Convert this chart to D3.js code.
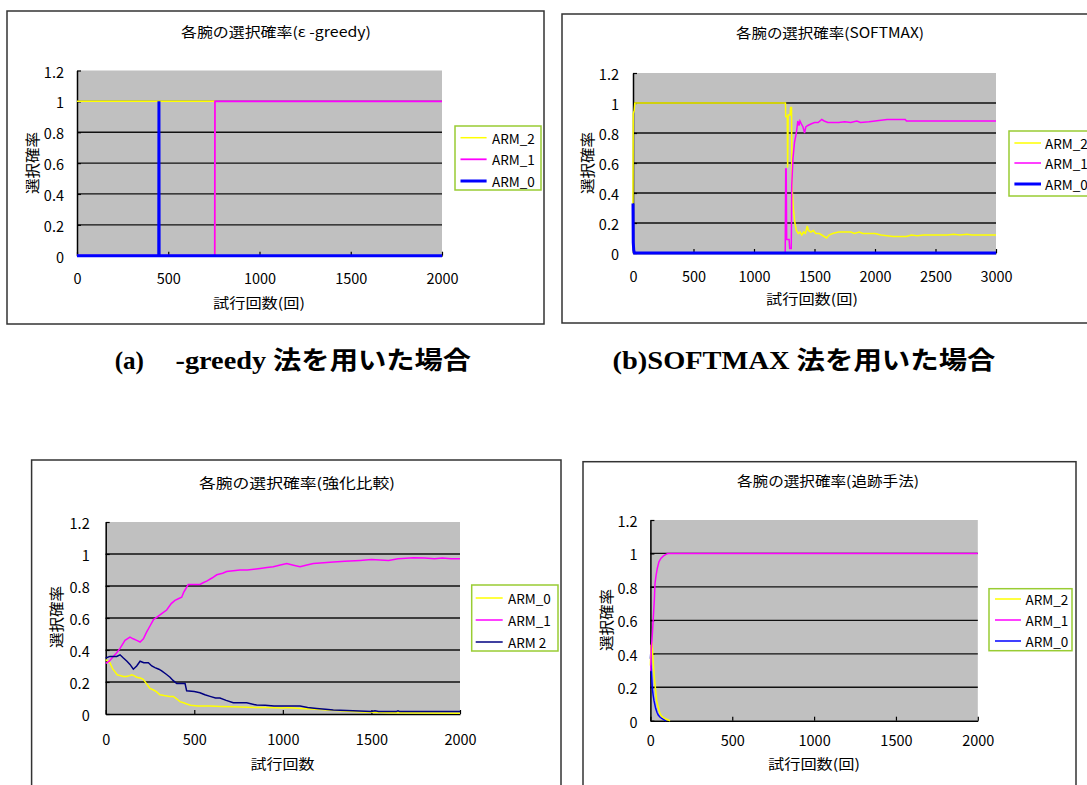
<!DOCTYPE html>
<html><head><meta charset="utf-8">
<script src="https://cdn.jsdelivr.net/npm/d3@7"></script>
<style>
body{margin:0;background:#fff}
svg{display:block}
text{font-family:'Noto Sans CJK JP','Noto Sans',sans-serif;fill:#000}
text.cap{font-family:'Liberation Serif','Noto Sans CJK JP',serif;font-weight:bold}
</style>
</head><body>
<svg id="c" width="1087" height="785"></svg>
<script>
// ---------- data ----------
const yTicks = [0, 0.2, 0.4, 0.6, 0.8, 1, 1.2];
const xTicks2000 = [0, 500, 1000, 1500, 2000];
const xTicks3000 = [0, 500, 1000, 1500, 2000, 2500, 3000];
const titles = ['各腕の選択確率(ε -greedy)', '各腕の選択確率(SOFTMAX)', '各腕の選択確率(強化比較)', '各腕の選択確率(追跡手法)'];
const xLabels = ['試行回数(回)', '試行回数(回)', '試行回数', '試行回数(回)'];
const yLabel = '選択確率';
const captionA = ['(a)', '-greedy 法を用いた場合'];
const captionB = '(b)SOFTMAX 法を用いた場合';
const legendA = ['ARM_2', 'ARM_1', 'ARM_0'];
const legendB = ['ARM_2', 'ARM_1', 'ARM_0'];
const legendC = ['ARM_0', 'ARM_1', 'ARM 2'];
const legendD = ['ARM_2', 'ARM_1', 'ARM_0'];

// series: [trial, probability]
const greedyArm2 = [[0,1],[448,1],[449,0],[450,1],[755,1],[756,0],[2000,0]];
const greedyArm1 = [[0,0],[755,0],[756,1],[2000,1]];
const greedyArm0 = [[0,0],[448,0],[449,1],[450,0],[2000,0]];

const softmaxArm2 = [[0,0.33],[2,0.93],[10,0.95],[15,1],[1260,1],[1262,0.91],[1275,0.91],[1278,0.57],[1282,0.92],[1298,0.92],[1302,0.97],[1310,0.97],[1314,0.45],[1325,0.3],[1338,0.2],[1350,0.15],[1366,0.13],[1380,0.14],[1395,0.12],[1410,0.14],[1425,0.13],[1440,0.18],[1450,0.15],[1470,0.14],[1490,0.15],[1510,0.13],[1540,0.13],[1560,0.12],[1580,0.11],[1600,0.1],[1620,0.12],[1650,0.13],[1700,0.14],[1750,0.14],[1800,0.14],[1830,0.13],[1870,0.14],[1900,0.13],[1950,0.13],[2000,0.13],[2050,0.12],[2100,0.115],[2150,0.11],[2200,0.11],[2260,0.11],[2300,0.12],[2350,0.115],[2400,0.12],[2500,0.12],[2600,0.12],[2650,0.125],[2700,0.12],[2760,0.125],[2800,0.12],[3000,0.12]];
const softmaxArm1 = [[0,0],[1258,0],[1262,0.56],[1266,0.56],[1270,0.09],[1290,0.09],[1295,0.03],[1308,0.03],[1312,0.45],[1322,0.63],[1335,0.74],[1350,0.8],[1362,0.88],[1372,0.85],[1380,0.88],[1392,0.86],[1405,0.84],[1418,0.8],[1428,0.84],[1445,0.85],[1470,0.86],[1500,0.87],[1530,0.87],[1560,0.89],[1580,0.88],[1610,0.87],[1650,0.87],[1700,0.87],[1750,0.875],[1800,0.87],[1850,0.88],[1880,0.87],[1950,0.875],[2000,0.88],[2050,0.885],[2100,0.89],[2150,0.89],[2200,0.89],[2250,0.89],[2260,0.88],[3000,0.88]];
const softmaxArm0 = [[0,0.33],[2,0.07],[6,0.02],[12,0],[3000,0]];

const reinfArm0 = [[0,0.34],[24,0.32],[40,0.28],[52,0.265],[65,0.245],[81,0.24],[100,0.235],[118,0.235],[135,0.24],[147,0.245],[160,0.24],[175,0.23],[195,0.225],[212,0.217],[230,0.19],[250,0.16],[270,0.15],[286,0.14],[306,0.12],[330,0.115],[360,0.11],[382,0.11],[400,0.095],[419,0.077],[440,0.07],[457,0.0625],[480,0.055],[520,0.05],[589,0.05],[650,0.047],[720,0.045],[800,0.042],[909,0.04],[1000,0.038],[1022,0.04],[1100,0.035],[1191,0.03],[1250,0.025],[1323,0.02],[1400,0.015],[1450,0.012],[1600,0.008],[2000,0.005]];
const reinfArm1 = [[0,0.317],[20,0.33],[43,0.36],[60,0.38],[81,0.41],[109,0.46],[137,0.48],[155,0.47],[175,0.46],[194,0.45],[213,0.47],[230,0.51],[250,0.55],[270,0.59],[295,0.61],[320,0.63],[344,0.65],[370,0.69],[391,0.71],[410,0.72],[429,0.73],[440,0.76],[448,0.775],[466,0.81],[500,0.81],[532,0.81],[550,0.82],[570,0.83],[600,0.85],[627,0.87],[660,0.88],[683,0.89],[720,0.895],[758,0.9],[800,0.9],[871,0.91],[910,0.915],[946,0.92],[980,0.93],[1022,0.94],[1060,0.93],[1097,0.92],[1130,0.93],[1172,0.94],[1230,0.945],[1285,0.95],[1350,0.955],[1436,0.96],[1500,0.965],[1597,0.96],[1650,0.97],[1738,0.977],[1800,0.975],[1856,0.97],[1900,0.975],[1950,0.97],[2000,0.97]];
const reinfArm2 = [[0,0.35],[24,0.36],[62,0.36],[81,0.37],[100,0.35],[120,0.33],[137,0.31],[156,0.28],[175,0.3],[194,0.33],[215,0.32],[241,0.32],[260,0.3],[278,0.29],[300,0.28],[316,0.27],[340,0.25],[363,0.23],[380,0.21],[401,0.19],[448,0.19],[457,0.145],[500,0.14],[532,0.133],[560,0.12],[589,0.11],[620,0.1],[645,0.1],[680,0.085],[720,0.07],[796,0.07],[852,0.056],[900,0.055],[950,0.05],[1022,0.05],[1097,0.05],[1140,0.04],[1191,0.035],[1240,0.03],[1285,0.025],[1397,0.02],[1500,0.015],[1520,0.02],[1540,0.015],[1640,0.015],[1650,0.02],[1660,0.015],[2000,0.015]];

const pursuitArm2 = [[0,0.33],[4,0.45],[10,0.46],[14,0.4],[18,0.34],[24,0.26],[32,0.18],[38,0.12],[48,0.08],[58,0.044],[70,0.025],[79,0.02],[95,0.01],[110,0.004],[120,0]];
const pursuitArm1 = [[0,0.3],[2,0.3],[5,0.42],[12,0.52],[18,0.62],[24,0.72],[28,0.82],[35,0.87],[42,0.91],[52,0.95],[64,0.97],[80,0.985],[95,0.995],[106,1],[2000,1]];
const pursuitArm0 = [[0,0.37],[2,0.4],[6,0.3],[12,0.19],[17,0.15],[22,0.12],[32,0.074],[40,0.05],[48,0.034],[58,0.022],[69,0.014],[82,0.006],[95,0]];

// ---------- drawing ----------
const YELLOW = '#ffff00', MAGENTA = '#ff00ff', BLUE = '#0000ff', NAVY = '#000080';
const svg = d3.select('#c');

const panels = [
  { frame:[7,11,544,324], plot:[77,70.5,442,255.7], xMax:2000, xTicks:xTicks2000,
    title:titles[0], tx:276, ty:31, tlen:190,
    xl:xLabels[0], xlx:259, xly:302, xllen:92, ylx:31, yly:163,
    tickY:278, yRight:64,
    leg:{x0:455,y0:126,x1:541,y1:190,rows:[137.7,159.3,181],l0:460.5,l1:486.6,tx:492},
    labels:legendA,
    series:[{d:greedyArm2,c:YELLOW,w:1.5,leg:0},{d:greedyArm1,c:MAGENTA,w:1.8,leg:1},{d:greedyArm0,c:BLUE,w:3,leg:2}] },
  { frame:[562,14,1100,323], plot:[633,73,996,253], xMax:3000, xTicks:xTicks3000,
    title:titles[1], tx:830, ty:32, tlen:188,
    xl:xLabels[1], xlx:812, xly:298, xllen:92, ylx:586, yly:163,
    tickY:275, yRight:619,
    leg:{x0:1009,y0:131,x1:1100,y1:196,rows:[143,163,184],l0:1014.4,l1:1041,tx:1045},
    labels:legendB,
    series:[{d:softmaxArm2,c:YELLOW,w:1.5,leg:0},{d:softmaxArm1,c:MAGENTA,w:1.5,leg:1},{d:softmaxArm0,c:BLUE,w:3,leg:2}] },
  { frame:[31.6,460,561,800], plot:[105.7,522,460,714], xMax:2000, xTicks:xTicks2000,
    title:titles[2], tx:297, ty:481.7, tlen:196,
    xl:xLabels[2], xlx:282.5, xly:763, xllen:64, ylx:55.6, yly:617,
    tickY:738, yRight:89.7,
    leg:{x0:471.7,y0:585,x1:558,y1:651,rows:[598,620,642],l0:475.7,l1:502.7,tx:508},
    labels:legendC,
    series:[{d:reinfArm0,c:YELLOW,w:1.5,leg:0},{d:reinfArm1,c:MAGENTA,w:1.5,leg:1},{d:reinfArm2,c:NAVY,w:1.5,leg:2}] },
  { frame:[583,461.7,1076,800], plot:[650.4,520,977.8,720.7], xMax:2000, xTicks:xTicks2000,
    title:titles[3], tx:828, ty:480, tlen:182,
    xl:xLabels[3], xlx:814, xly:762.7, xllen:92, ylx:605.5, yly:620,
    tickY:740, yRight:637.6,
    leg:{x0:989,y0:588.7,x1:1072,y1:650.7,rows:[599,620,641],l0:995,l1:1021,tx:1025.5},
    labels:legendD,
    series:[{d:pursuitArm0,c:BLUE,w:1.5,leg:2},{d:pursuitArm2,c:YELLOW,w:1.5,leg:0},{d:pursuitArm1,c:MAGENTA,w:1.5,leg:1}] }
];

panels.forEach(p => {
  const g = svg.append('g');
  const [fx0, fy0, fx1, fy1] = p.frame;
  g.append('rect').attr('x', fx0).attr('y', fy0).attr('width', fx1 - fx0).attr('height', fy1 - fy0)
    .attr('fill', '#fff').attr('stroke', '#333').attr('stroke-width', 1.5);

  g.append('text').attr('x', p.tx).attr('y', p.ty).attr('text-anchor', 'middle')
    .attr('dominant-baseline', 'central').attr('font-size', 14)
    .attr('textLength', p.tlen).attr('lengthAdjust', 'spacingAndGlyphs').text(p.title);

  const [px0, py0, px1, py1] = p.plot;
  const x = d3.scaleLinear().domain([0, p.xMax]).range([px0, px1]);
  const y = d3.scaleLinear().domain([0, 1.2]).range([py1, py0]);

  g.append('rect').attr('x', px0).attr('y', py0).attr('width', px1 - px0).attr('height', py1 - py0)
    .attr('fill', '#c0c0c0');

  // gridlines
  g.append('g').selectAll('line').data(yTicks.filter(v => v > 0 && v < 1.2)).join('line')
    .attr('x1', px0).attr('x2', px1).attr('y1', d => y(d)).attr('y2', d => y(d))
    .attr('stroke', '#111').attr('stroke-width', 1.3);

  // axes
  const xa = g.append('g').attr('transform', `translate(0,${py1})`)
    .call(d3.axisBottom(x).tickValues(p.xTicks).tickSizeInner(-4).tickSizeOuter(0).tickFormat(d3.format('d')));
  xa.select('.domain').attr('stroke', '#000').attr('stroke-width', 1.5);
  xa.selectAll('.tick line').attr('stroke', '#000').attr('stroke-width', 1.2);
  xa.selectAll('.tick text').attr('y', p.tickY - py1).attr('dy', null)
    .attr('dominant-baseline', 'central').attr('font-size', 14.5);

  const ya = g.append('g').attr('transform', `translate(${px0},0)`)
    .call(d3.axisLeft(y).tickValues(yTicks).tickSizeInner(-4).tickSizeOuter(0).tickFormat(d => String(d)));
  ya.select('.domain').attr('stroke', '#000').attr('stroke-width', 1.5);
  ya.selectAll('.tick line').attr('stroke', '#000').attr('stroke-width', 1.2);
  ya.selectAll('.tick text').attr('x', p.yRight - px0).attr('dy', null)
    .attr('dominant-baseline', 'central').attr('font-size', 14.5);

  // series
  const line = d3.line().x(d => x(d[0])).y(d => y(d[1]));
  p.series.forEach(s => {
    g.append('path').attr('d', line(s.d)).attr('fill', 'none')
      .attr('stroke', s.c).attr('stroke-width', s.w).attr('stroke-linejoin', 'miter');
  });

  // axis labels
  g.append('text').attr('x', p.xlx).attr('y', p.xly).attr('text-anchor', 'middle')
    .attr('dominant-baseline', 'central').attr('font-size', 14)
    .attr('textLength', p.xllen).attr('lengthAdjust', 'spacingAndGlyphs').text(p.xl);
  g.append('text').attr('transform', `translate(${p.ylx},${p.yly}) rotate(-90)`)
    .attr('text-anchor', 'middle').attr('dominant-baseline', 'central').attr('font-size', 15)
    .attr('textLength', 62).attr('lengthAdjust', 'spacingAndGlyphs').text(yLabel);

  // legend
  const L = p.leg;
  g.append('rect').attr('x', L.x0).attr('y', L.y0).attr('width', L.x1 - L.x0).attr('height', L.y1 - L.y0)
    .attr('fill', '#fff').attr('stroke', '#99cc33').attr('stroke-width', 1.5);
  p.series.forEach(s => {
    const ry = L.rows[s.leg];
    g.append('line').attr('x1', L.l0).attr('x2', L.l1).attr('y1', ry).attr('y2', ry)
      .attr('stroke', s.c).attr('stroke-width', s.w);
    g.append('text').attr('x', L.tx).attr('y', ry).attr('dominant-baseline', 'central')
      .attr('font-size', 13.5).text(p.labels[s.leg]);
  });
});

// captions
svg.append('text').attr('class', 'cap').attr('x', 114.7).attr('y', 369).attr('font-size', 25)
  .attr('textLength', 29.3).attr('lengthAdjust', 'spacingAndGlyphs').text(captionA[0]);
svg.append('text').attr('class', 'cap').attr('x', 175.5).attr('y', 369).attr('font-size', 25)
  .attr('textLength', 295.5).attr('lengthAdjust', 'spacingAndGlyphs').text(captionA[1]);
svg.append('text').attr('class', 'cap').attr('x', 612.6).attr('y', 369).attr('font-size', 25)
  .attr('textLength', 382.9).attr('lengthAdjust', 'spacingAndGlyphs').text(captionB);
</script>
</body></html>
